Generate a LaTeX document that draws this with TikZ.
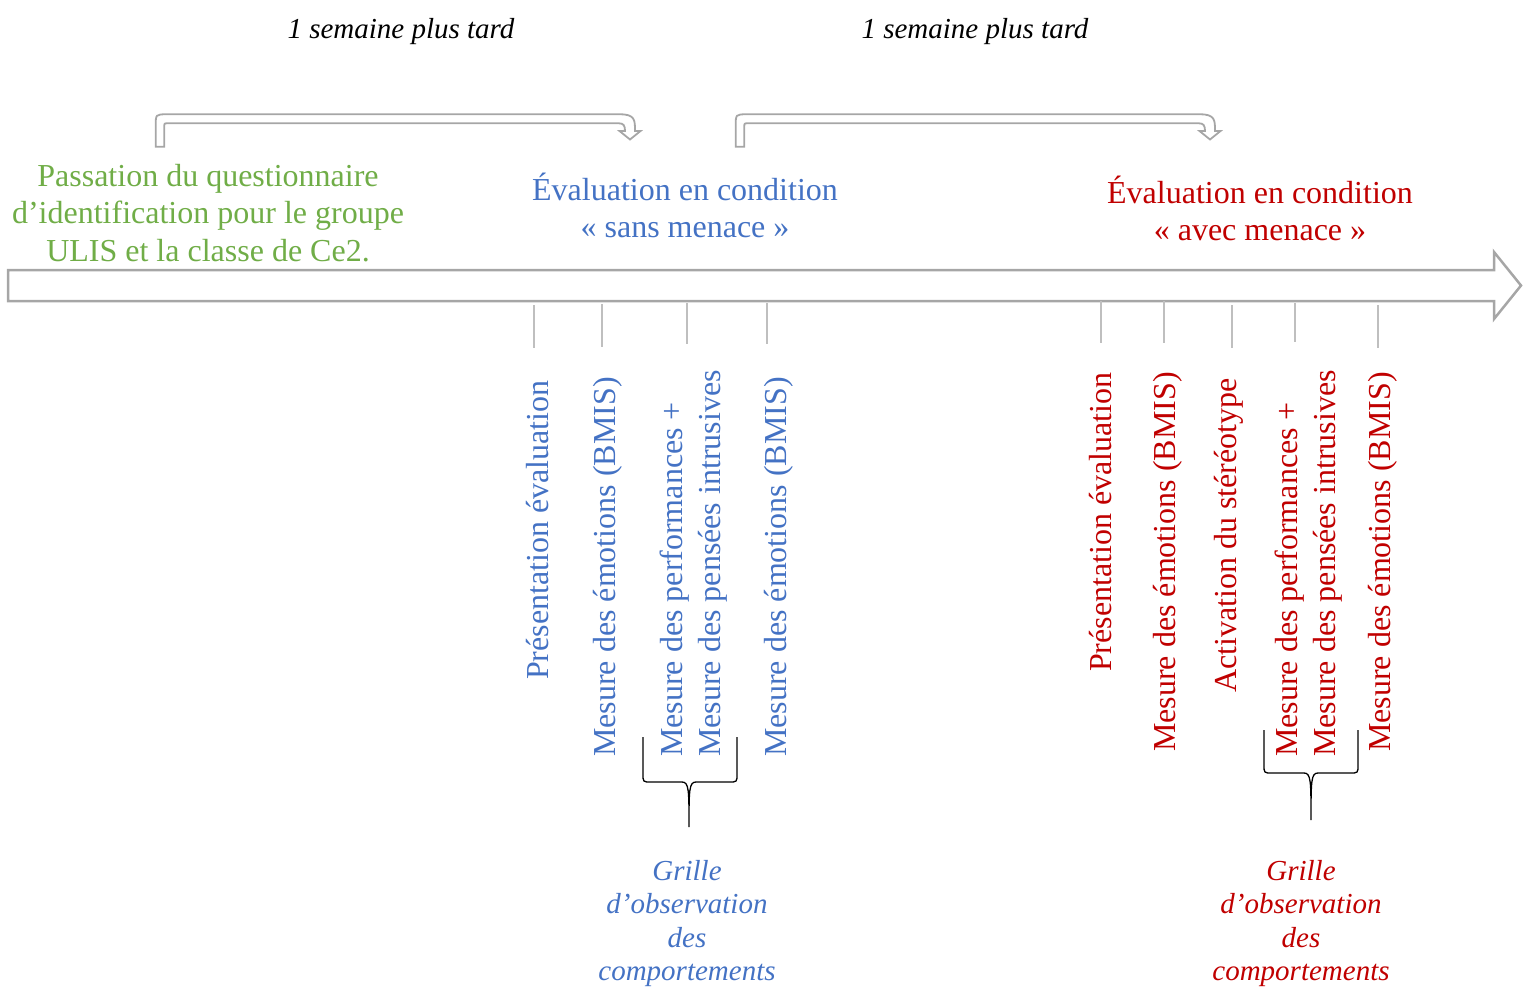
\documentclass[tikz,border=0pt]{standalone}
\usepackage{fontspec}
\setmainfont{Liberation Serif}
\definecolor{sansblue}{HTML}{4472C4}
\definecolor{avecred}{HTML}{C00000}
\definecolor{passgreen}{HTML}{70AD47}
\definecolor{arrowgrey}{HTML}{A6A6A6}
\definecolor{tickgrey}{HTML}{BFBFBF}

\begin{document}
\begin{tikzpicture}[x=1pt,y=-1pt,
   timeline/.style={draw=arrowgrey,line width=2.5pt},
   bent/.style={draw=arrowgrey,line width=1.8pt},
   tick/.style={draw=tickgrey,line width=1.2pt},
   obsbrace/.style={draw=black,line width=1.3pt},
   txt/.style={inner sep=0pt,font=\fontsize{32}{37.5}\selectfont},
   head/.style={txt,align=center,anchor=base},
   vlabel/.style={txt,rotate=90,anchor=base west,align=left},
   delay/.style={inner sep=0pt,anchor=base,font=\fontsize{29}{33.5}\selectfont\itshape},
   grille/.style={delay,align=center}]
   \useasboundingbox (0,0) rectangle (1523,986);
   % frise
   \draw[timeline] (8,270) -- (1494,270) -- (1494,252) -- (1521,285.5) -- (1494,319) -- (1494,301) -- (8,301) -- cycle;
   % fleches coudees
   \foreach \dx in {0,580}
      \draw[bent,xshift=\dx pt] (155.7,146.7) -- (155.7,126) .. controls (155.7,114.3) .. (167,114.3) -- (620,114.3) .. controls (635,114.3) and (635,120) .. (635,131) -- (640.5,131) -- (630,139.5) -- (619.5,131) -- (625,131) .. controls (625,125.5) and (623.5,123.3) .. (619,123.3) -- (168,123.3) .. controls (164.3,123.3) .. (164.3,127) -- (164.3,146.7) -- cycle;
   \node[delay] (delay1) at (401,38) {1 semaine plus tard};
   \node[delay] (delay2) at (975,38) {1 semaine plus tard};
   % base = last line
   \node[head,text=passgreen] (passation) at (208,261) {Passation du questionnaire\\d’identification pour le groupe\\ULIS et la classe de Ce2.};
   \node[head,text=sansblue] (sans) at (685,237.5) {Évaluation en condition\\«~sans menace~»};
   \node[head,text=avecred] (avec) at (1260,240.5) {Évaluation en condition\\«~avec menace~»};
   % ticks
   \foreach \x/\a/\b in {534/305/348, 602/304/347, 687/303/344, 767/303/344, 1101/301/343, 1164/301/343, 1232/305/348, 1295/303/342, 1378/305/348}
      \draw[tick] (\x,\a) -- (\x,\b);
   % sans menace
   \node[vlabel,text=sansblue] (s1) at (548,680) {Présentation évaluation};
   \node[vlabel,text=sansblue] (s2) at (615,757) {Mesure des émotions (BMIS)};
   \node[vlabel,text=sansblue] (s3) at (720,757) {Mesure des performances +\\Mesure des pensées intrusives};
   \node[vlabel,text=sansblue] (s4) at (786,757) {Mesure des émotions (BMIS)};
   % avec menace
   \node[vlabel,text=avecred] (a1) at (1111,672) {Présentation évaluation};
   \node[vlabel,text=avecred] (a2) at (1175,752) {Mesure des émotions (BMIS)};
   \node[vlabel,text=avecred] (a3) at (1236,693) {Activation du stéréotype};
   \node[vlabel,text=avecred] (a4) at (1335,757) {Mesure des performances +\\Mesure des pensées intrusives};
   \node[vlabel,text=avecred] (a5) at (1390,752) {Mesure des émotions (BMIS)};
   % accolades
   \draw[obsbrace] (643,737) -- (643,774) .. controls (643,782) .. (651,782) -- (682,782) .. controls (689,782) and (689,790) .. (689,827) .. controls (689,790) and (689,782) .. (696,782) -- (729,782) .. controls (737,782) .. (737,774) -- (737,737);
   \draw[obsbrace] (1264,730) -- (1264,765) .. controls (1264,773) .. (1272,773) -- (1304,773) .. controls (1311,773) and (1311,781) .. (1311,820) .. controls (1311,781) and (1311,773) .. (1318,773) -- (1350,773) .. controls (1358,773) .. (1358,765) -- (1358,730);
   \node[grille,text=sansblue] (gsans) at (687,980.5) {Grille\\d’observation\\des\\comportements};
   \node[grille,text=avecred] (gavec) at (1301,980.5) {Grille\\d’observation\\des\\comportements};
\end{tikzpicture}
\end{document}
